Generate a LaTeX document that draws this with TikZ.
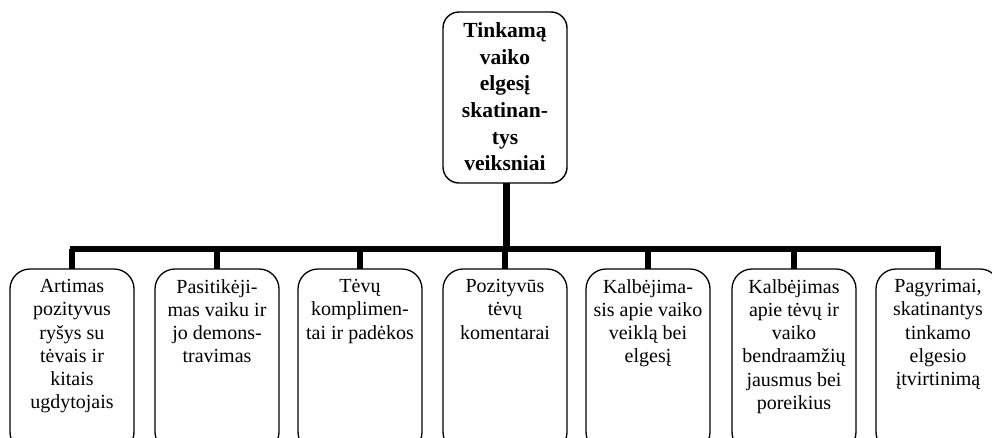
\documentclass[tikz,border=0pt]{standalone}
\usepackage{fontspec}
\setmainfont{Liberation Serif}
\begin{document}
\begin{tikzpicture}[x=1pt,y=-1pt,
  topbox/.style={draw, line width=1.4pt, rounded corners=16pt},
  leafbox/.style={draw, line width=1.3pt, rounded corners=20pt},
  toptext/.style={anchor=north, align=center, inner sep=0pt, font=\fontsize{21.5}{26.6}\selectfont\bfseries},
  leaftext/.style={anchor=north, align=center, inner sep=0pt, font=\fontsize{20}{23.3}\selectfont},
  conn/.style={line width=6pt},
  stem/.style={line width=7pt}]
\useasboundingbox (0,0) rectangle (992,437);
\begin{scope}
\clip (0,0) rectangle (992,437);
% top box
\draw[topbox] (443,12) rectangle (567,183);
\coordinate (topbot) at (506.5,183);
\node[toptext] (top) at (505,22.5) {Tinkamą\\vaiko\\elgesį\\skatinan-\\tys\\veiksniai};
% bar
\coordinate (barmid) at (506.5,249);
\coordinate (barL) at (72.5,249);
\coordinate (barR) at (938,249);
\draw[stem] (topbot) -- (barmid);
\draw[conn] ([xshift=-3pt]barL) -- ([xshift=3pt]barR);
% leaf boxes
\foreach \i/\xl in {1/10,2/155,3/298,4/443,5/586,6/732,7/876}{
  \draw[leafbox] (\xl,269) rectangle (\xl+124,452);
  \coordinate (b\i) at (\xl+62,269);
  \draw[conn] (b\i |- barmid) -- (b\i);
}
\node[leaftext] (t1) at ([yshift=-10pt]b1) {Artimas\\pozityvus\\ryšys su\\tėvais ir\\kitais\\ugdytojais};
\node[leaftext] (t2) at ([yshift=-10pt]b2) {Pasitikėji-\\mas vaiku ir\\jo demons-\\travimas};
\node[leaftext] (t3) at ([yshift=-10pt]b3) {Tėvų\\komplimen-\\tai ir padėkos};
\node[leaftext] (t4) at ([yshift=-10pt]b4) {Pozityvūs\\tėvų\\komentarai};
\node[leaftext] (t5) at ([yshift=-10pt]b5) {Kalbėjima-\\sis apie vaiko\\veiklą bei\\elgesį};
\node[leaftext] (t6) at ([yshift=-10pt]b6) {Kalbėjimas\\apie tėvų ir\\vaiko\\bendraamžių\\jausmus bei\\poreikius};
\node[leaftext] (t7) at ([yshift=-10pt]b7) {Pagyrimai,\\skatinantys\\tinkamo\\elgesio\\įtvirtinimą};
\end{scope}
\end{tikzpicture}
\end{document}
